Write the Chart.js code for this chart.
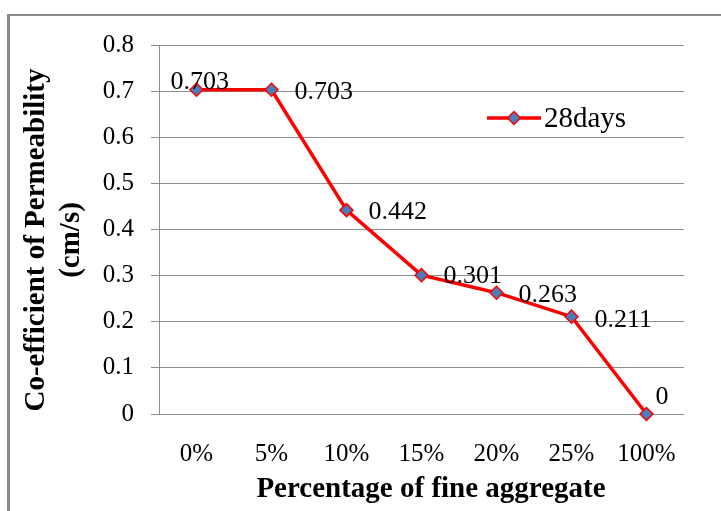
<!DOCTYPE html>
<html>
<head>
<meta charset="utf-8">
<title>Co-efficient of Permeability</title>
<script src="https://cdn.jsdelivr.net/npm/chart.js@4/dist/chart.umd.min.js"></script>
<style>
  html, body { margin: 0; padding: 0; background: #ffffff; }
  #wrap { position: relative; width: 721px; height: 511px; overflow: hidden; }
  canvas { display: block; }
</style>
</head>
<body>
<div id="wrap"><canvas id="chart" width="721" height="511"></canvas></div>
<script>
// Fine aggregate replacement levels and the 28-day permeability results
const categories = ['0%', '5%', '10%', '15%', '20%', '25%', '100%'];
const seriesName = '28days';
const permeability28 = [0.703, 0.703, 0.442, 0.301, 0.263, 0.211, 0];
const yTickLabels = ['0', '0.1', '0.2', '0.3', '0.4', '0.5', '0.6', '0.7', '0.8'];

const xTitle = 'Percentage of fine aggregate';
const yTitleLines = ['Co-efficient of Permeability', '(cm/s)'];

// Where each value label sits relative to its marker (left edge, vertical middle)
const labelOffsets = [
  { dx: -26, dy: -8 },
  { dx: 23, dy: 2 },
  { dx: 22, dy: 2 },
  { dx: 22, dy: 1 },
  { dx: 22, dy: 2 },
  { dx: 23, dy: 3 },
  { dx: 9, dy: -17 }
];

const SERIF = '"Liberation Serif", "Times New Roman", serif';
const LINE_RED = '#ff0000';
const MARKER_BLUE = '#4a7ebb';
const GRID_GRAY = '#8e8e8e';

function drawDiamond(ctx, x, y, r) {
  ctx.beginPath();
  ctx.moveTo(x, y - r);
  ctx.lineTo(x + r, y);
  ctx.lineTo(x, y + r);
  ctx.lineTo(x - r, y);
  ctx.closePath();
  ctx.fillStyle = MARKER_BLUE;
  ctx.fill();
  ctx.lineWidth = 1.5;
  ctx.strokeStyle = LINE_RED;
  ctx.stroke();
}

// Outer frame of the chart object
const framePlugin = {
  id: 'frame',
  beforeDraw(chart) {
    const ctx = chart.ctx;
    ctx.save();
    ctx.fillStyle = '#ffffff';
    ctx.fillRect(0, 0, chart.width, chart.height);
    ctx.strokeStyle = '#8a8a8a';
    ctx.lineWidth = 3;
    ctx.beginPath();
    ctx.moveTo(8.5, chart.height + 5);
    ctx.lineTo(8.5, 15);
    ctx.stroke();
    ctx.lineWidth = 2;
    ctx.beginPath();
    ctx.moveTo(7, 15);
    ctx.lineTo(chart.width + 5, 15);
    ctx.stroke();
    ctx.restore();
  }
};

// Value labels next to each marker
const valueLabelPlugin = {
  id: 'valueLabels',
  afterDatasetsDraw(chart) {
    const ctx = chart.ctx;
    const meta = chart.getDatasetMeta(0);
    const values = chart.data.datasets[0].data;
    ctx.save();
    ctx.font = '26px ' + SERIF;
    ctx.fillStyle = '#000000';
    ctx.textAlign = 'left';
    ctx.textBaseline = 'middle';
    meta.data.forEach((pt, i) => {
      const off = labelOffsets[i];
      ctx.fillText(String(values[i]), pt.x + off.dx, pt.y + off.dy);
    });
    ctx.restore();
  }
};

// Axis titles and the in-plot legend
const titlesLegendPlugin = {
  id: 'titlesLegend',
  afterDraw(chart) {
    const ctx = chart.ctx;
    ctx.save();
    ctx.fillStyle = '#000000';
    ctx.font = 'bold 29px ' + SERIF;

    // x-axis title
    ctx.textAlign = 'center';
    ctx.textBaseline = 'alphabetic';
    ctx.fillText(xTitle, 431, 497);

    // y-axis title, two rotated lines
    ctx.textBaseline = 'middle';
    const lineX = [37, 72];
    yTitleLines.forEach((line, i) => {
      ctx.save();
      ctx.translate(lineX[i], 240);
      ctx.rotate(-Math.PI / 2);
      ctx.fillText(line, 0, 0);
      ctx.restore();
    });

    // legend entry inside the plot area
    const ly = 118;
    ctx.strokeStyle = LINE_RED;
    ctx.lineWidth = 3.5;
    ctx.beginPath();
    ctx.moveTo(487, ly);
    ctx.lineTo(541, ly);
    ctx.stroke();
    drawDiamond(ctx, 514, ly, 6.5);
    ctx.font = '29px ' + SERIF;
    ctx.fillStyle = '#000000';
    ctx.textAlign = 'left';
    ctx.textBaseline = 'middle';
    ctx.fillText(seriesName, 544, ly + 1);
    ctx.restore();
  }
};

new Chart(document.getElementById('chart'), {
  type: 'line',
  data: {
    labels: categories,
    datasets: [{
      label: seriesName,
      data: permeability28,
      borderColor: LINE_RED,
      borderWidth: 3.5,
      backgroundColor: MARKER_BLUE,
      pointStyle: 'rectRot',
      pointRadius: 6.5,
      pointHoverRadius: 6.5,
      pointBackgroundColor: MARKER_BLUE,
      pointBorderColor: LINE_RED,
      pointBorderWidth: 1.5,
      tension: 0,
      fill: false,
      clip: false
    }]
  },
  options: {
    responsive: false,
    animation: false,
    devicePixelRatio: 1,
    layout: { padding: { top: 45, right: 37, left: 0, bottom: 0 } },
    plugins: {
      legend: { display: false },
      tooltip: { enabled: false },
      title: { display: false }
    },
    scales: {
      x: {
        type: 'category',
        offset: true,
        grid: { display: false, drawTicks: false },
        border: { display: false },
        ticks: {
          color: '#000000',
          font: { family: SERIF, size: 25 },
          padding: 25,
          maxRotation: 0,
          autoSkip: false
        },
        afterFit(scale) { scale.height = 97; }
      },
      y: {
        min: 0,
        max: 0.8,
        grid: {
          color: GRID_GRAY,
          lineWidth: 1,
          drawTicks: true,
          tickLength: 8,
          tickColor: GRID_GRAY
        },
        border: { display: true, color: GRID_GRAY, width: 1 },
        ticks: {
          stepSize: 0.1,
          color: '#000000',
          font: { family: SERIF, size: 25 },
          padding: 17,
          callback: (value, index) => yTickLabels[index]
        },
        afterFit(scale) { scale.width = 159; }
      }
    }
  },
  plugins: [framePlugin, valueLabelPlugin, titlesLegendPlugin]
});
</script>
</body>
</html>
